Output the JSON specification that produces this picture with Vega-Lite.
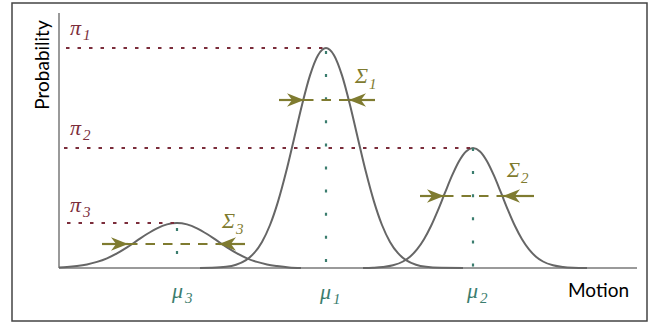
{
  "$schema": "https://vega.github.io/schema/vega-lite/v6.json",
  "width": 635,
  "height": 318,
  "padding": {"left": 12, "top": 3, "right": 2, "bottom": 2},
  "autosize": {"type": "none"},
  "background": "white",
  "config": {"view": {"stroke": "#444444", "strokeWidth": 1.5}},
  "datasets": {
    "axes": [
      {"x": 0, "y": 0, "x2": 578, "y2": 0},
      {"x": 0, "y": 0, "x2": 0, "y2": 255}
    ],
    "curves": [
      {"curve": "c1", "x": 141, "y": 0}, {"curve": "c1", "x": 152, "y": 0.2}, {"curve": "c1", "x": 167, "y": 1.2}, {"curve": "c1", "x": 177, "y": 3.3}, {"curve": "c1", "x": 187, "y": 7.9}, {"curve": "c1", "x": 195, "y": 14.8}, {"curve": "c1", "x": 203, "y": 26.1}, {"curve": "c1", "x": 211, "y": 43.0}, {"curve": "c1", "x": 219, "y": 66.4}, {"curve": "c1", "x": 227, "y": 95.7}, {"curve": "c1", "x": 235, "y": 129.1}, {"curve": "c1", "x": 243, "y": 163.0}, {"curve": "c1", "x": 251, "y": 192.6}, {"curve": "c1", "x": 259, "y": 212.8}, {"curve": "c1", "x": 267, "y": 220}, {"curve": "c1", "x": 275, "y": 212.8}, {"curve": "c1", "x": 283, "y": 192.6}, {"curve": "c1", "x": 291, "y": 163.0}, {"curve": "c1", "x": 299, "y": 129.1}, {"curve": "c1", "x": 307, "y": 95.7}, {"curve": "c1", "x": 315, "y": 66.4}, {"curve": "c1", "x": 323, "y": 43.0}, {"curve": "c1", "x": 331, "y": 26.1}, {"curve": "c1", "x": 339, "y": 14.8}, {"curve": "c1", "x": 347, "y": 7.9}, {"curve": "c1", "x": 357, "y": 3.3}, {"curve": "c1", "x": 367, "y": 1.2}, {"curve": "c1", "x": 382, "y": 0.2}, {"curve": "c1", "x": 404, "y": 0},
      {"curve": "c2", "x": 304, "y": 0}, {"curve": "c2", "x": 314, "y": 0.3}, {"curve": "c2", "x": 324, "y": 1.0}, {"curve": "c2", "x": 334, "y": 2.7}, {"curve": "c2", "x": 344, "y": 6.5}, {"curve": "c2", "x": 351, "y": 11.3}, {"curve": "c2", "x": 358, "y": 18.6}, {"curve": "c2", "x": 365, "y": 28.8}, {"curve": "c2", "x": 372, "y": 42.0}, {"curve": "c2", "x": 379, "y": 57.9}, {"curve": "c2", "x": 386, "y": 75.3}, {"curve": "c2", "x": 393, "y": 92.3}, {"curve": "c2", "x": 400, "y": 106.8}, {"curve": "c2", "x": 407, "y": 116.6}, {"curve": "c2", "x": 414, "y": 120}, {"curve": "c2", "x": 421, "y": 116.6}, {"curve": "c2", "x": 428, "y": 106.8}, {"curve": "c2", "x": 435, "y": 92.3}, {"curve": "c2", "x": 442, "y": 75.3}, {"curve": "c2", "x": 449, "y": 57.9}, {"curve": "c2", "x": 456, "y": 42.0}, {"curve": "c2", "x": 463, "y": 28.8}, {"curve": "c2", "x": 470, "y": 18.6}, {"curve": "c2", "x": 477, "y": 11.3}, {"curve": "c2", "x": 484, "y": 6.5}, {"curve": "c2", "x": 494, "y": 2.7}, {"curve": "c2", "x": 504, "y": 1.0}, {"curve": "c2", "x": 514, "y": 0.3}, {"curve": "c2", "x": 528, "y": 0},
      {"curve": "c3", "x": 0, "y": 0.6}, {"curve": "c3", "x": 8, "y": 1.0}, {"curve": "c3", "x": 18, "y": 2.0}, {"curve": "c3", "x": 28, "y": 3.6}, {"curve": "c3", "x": 38, "y": 6.1}, {"curve": "c3", "x": 48, "y": 9.7}, {"curve": "c3", "x": 58, "y": 14.6}, {"curve": "c3", "x": 68, "y": 20.6}, {"curve": "c3", "x": 78, "y": 27.3}, {"curve": "c3", "x": 88, "y": 34.0}, {"curve": "c3", "x": 98, "y": 39.7}, {"curve": "c3", "x": 108, "y": 43.6}, {"curve": "c3", "x": 118, "y": 45}, {"curve": "c3", "x": 128, "y": 43.6}, {"curve": "c3", "x": 138, "y": 39.7}, {"curve": "c3", "x": 148, "y": 34.0}, {"curve": "c3", "x": 158, "y": 27.3}, {"curve": "c3", "x": 168, "y": 20.6}, {"curve": "c3", "x": 178, "y": 14.6}, {"curve": "c3", "x": 188, "y": 9.7}, {"curve": "c3", "x": 198, "y": 6.1}, {"curve": "c3", "x": 208, "y": 3.6}, {"curve": "c3", "x": 218, "y": 2.0}, {"curve": "c3", "x": 230, "y": 0.6}, {"curve": "c3", "x": 242, "y": 0}
    ],
    "piLines": [
      {"x": 7, "x2": 267, "y": 220},
      {"x": 5, "x2": 414, "y": 120},
      {"x": 8, "x2": 118, "y": 45}
    ],
    "muLines": [
      {"x": 267, "y": 217, "y2": 0},
      {"x": 414, "y": 120, "y2": 0},
      {"x": 118, "y": 40, "y2": 0}
    ],
    "sigLines": [
      {"x": 245, "x2": 290, "y": 168},
      {"x": 385, "x2": 444, "y": 72},
      {"x": 69, "x2": 160, "y": 24}
    ],
    "shafts": [
      {"x": 220, "x2": 245, "y": 168}, {"x": 290, "x2": 316, "y": 168},
      {"x": 361, "x2": 385, "y": 72}, {"x": 444, "x2": 475, "y": 72},
      {"x": 43, "x2": 69, "y": 24}, {"x": 160, "x2": 186, "y": 24}
    ],
    "arrowsR": [{"x": 245, "y": 168}, {"x": 385, "y": 72}, {"x": 69, "y": 24}],
    "arrowsL": [{"x": 290, "y": 168}, {"x": 444, "y": 72}, {"x": 160, "y": 24}],
    "piLabels": [
      {"x": 11, "y": 233, "sym": "π", "sub": "1"},
      {"x": 11, "y": 133, "sym": "π", "sub": "2"},
      {"x": 11, "y": 56, "sym": "π", "sub": "3"}
    ],
    "sigmaLabels": [
      {"x": 296, "y": 185, "sym": "Σ", "sub": "1"},
      {"x": 448, "y": 91, "sym": "Σ", "sub": "2"},
      {"x": 163, "y": 40, "sym": "Σ", "sub": "3"}
    ],
    "muLabels": [
      {"x": 261, "y": -31, "sym": "μ", "sub": "1"},
      {"x": 408, "y": -30, "sym": "μ", "sub": "2"},
      {"x": 113, "y": -30, "sym": "μ", "sub": "3"}
    ],
    "yTitle": [{"x": -16, "y": 203, "t": "Probability"}],
    "xTitle": [{"x": 509, "y": -29, "t": "Motion"}]
  },
  "encoding": {
    "x": {"field": "x", "type": "quantitative", "scale": {"domain": [-47, 588], "nice": false, "zero": false}, "axis": null},
    "y": {"field": "y", "type": "quantitative", "scale": {"domain": [-53, 265], "nice": false, "zero": false}, "axis": null}
  },
  "layer": [
    {
      "data": {"name": "axes"},
      "mark": {"type": "rule", "color": "#9a9a9a", "strokeWidth": 2},
      "encoding": {"x2": {"field": "x2"}, "y2": {"field": "y2"}}
    },
    {
      "data": {"name": "curves"},
      "mark": {"type": "line", "color": "#666666", "strokeWidth": 2, "interpolate": "monotone"},
      "encoding": {"detail": {"field": "curve", "type": "nominal"}}
    },
    {
      "data": {"name": "piLines"},
      "mark": {"type": "rule", "color": "#7b2d3b", "strokeWidth": 2, "strokeDash": [3.5, 8]},
      "encoding": {"x2": {"field": "x2"}}
    },
    {
      "data": {"name": "muLines"},
      "mark": {"type": "rule", "color": "#3b7d6e", "strokeWidth": 2.2, "strokeDash": [3, 20.1]},
      "encoding": {"y2": {"field": "y2"}}
    },
    {
      "data": {"name": "sigLines"},
      "mark": {"type": "rule", "color": "#7f7b30", "strokeWidth": 2.2, "strokeDash": [9.5, 8]},
      "encoding": {"x2": {"field": "x2"}}
    },
    {
      "data": {"name": "shafts"},
      "mark": {"type": "rule", "color": "#7f7b30", "strokeWidth": 2.2},
      "encoding": {"x2": {"field": "x2"}}
    },
    {
      "data": {"name": "arrowsR"},
      "mark": {"type": "point", "shape": "M0,0L-2,-0.8L-1.4,0L-2,0.8Z", "size": 289, "filled": true, "color": "#7f7b30", "opacity": 1, "strokeWidth": 0}
    },
    {
      "data": {"name": "arrowsL"},
      "mark": {"type": "point", "shape": "M0,0L2,-0.8L1.4,0L2,0.8Z", "size": 289, "filled": true, "color": "#7f7b30", "opacity": 1, "strokeWidth": 0}
    },
    {
      "data": {"name": "piLabels"},
      "mark": {"type": "text", "font": "Liberation Serif", "fontStyle": "italic", "fontSize": 22, "color": "#7b2d3b", "align": "left", "baseline": "alphabetic"},
      "encoding": {"text": {"field": "sym"}}
    },
    {
      "data": {"name": "piLabels"},
      "mark": {"type": "text", "font": "Liberation Serif", "fontStyle": "italic", "fontSize": 15, "color": "#7b2d3b", "align": "left", "baseline": "alphabetic", "dx": 13, "dy": 5},
      "encoding": {"text": {"field": "sub"}}
    },
    {
      "data": {"name": "sigmaLabels"},
      "mark": {"type": "text", "font": "Liberation Serif", "fontStyle": "italic", "fontSize": 22, "color": "#7f7b30", "align": "left", "baseline": "alphabetic"},
      "encoding": {"text": {"field": "sym"}}
    },
    {
      "data": {"name": "sigmaLabels"},
      "mark": {"type": "text", "font": "Liberation Serif", "fontStyle": "italic", "fontSize": 15, "color": "#7f7b30", "align": "left", "baseline": "alphabetic", "dx": 14, "dy": 6},
      "encoding": {"text": {"field": "sub"}}
    },
    {
      "data": {"name": "muLabels"},
      "mark": {"type": "text", "font": "Liberation Serif", "fontStyle": "italic", "fontSize": 22, "color": "#3b7d6e", "align": "left", "baseline": "alphabetic"},
      "encoding": {"text": {"field": "sym"}}
    },
    {
      "data": {"name": "muLabels"},
      "mark": {"type": "text", "font": "Liberation Serif", "fontStyle": "italic", "fontSize": 15, "color": "#3b7d6e", "align": "left", "baseline": "alphabetic", "dx": 13, "dy": 5},
      "encoding": {"text": {"field": "sub"}}
    },
    {
      "data": {"name": "yTitle"},
      "mark": {"type": "text", "font": "Lato", "fontSize": 19, "color": "#000000", "angle": 270, "align": "center", "baseline": "middle"},
      "encoding": {"text": {"field": "t"}}
    },
    {
      "data": {"name": "xTitle"},
      "mark": {"type": "text", "font": "Lato", "fontSize": 19, "color": "#000000", "align": "left", "baseline": "alphabetic"},
      "encoding": {"text": {"field": "t"}}
    }
  ]
}
